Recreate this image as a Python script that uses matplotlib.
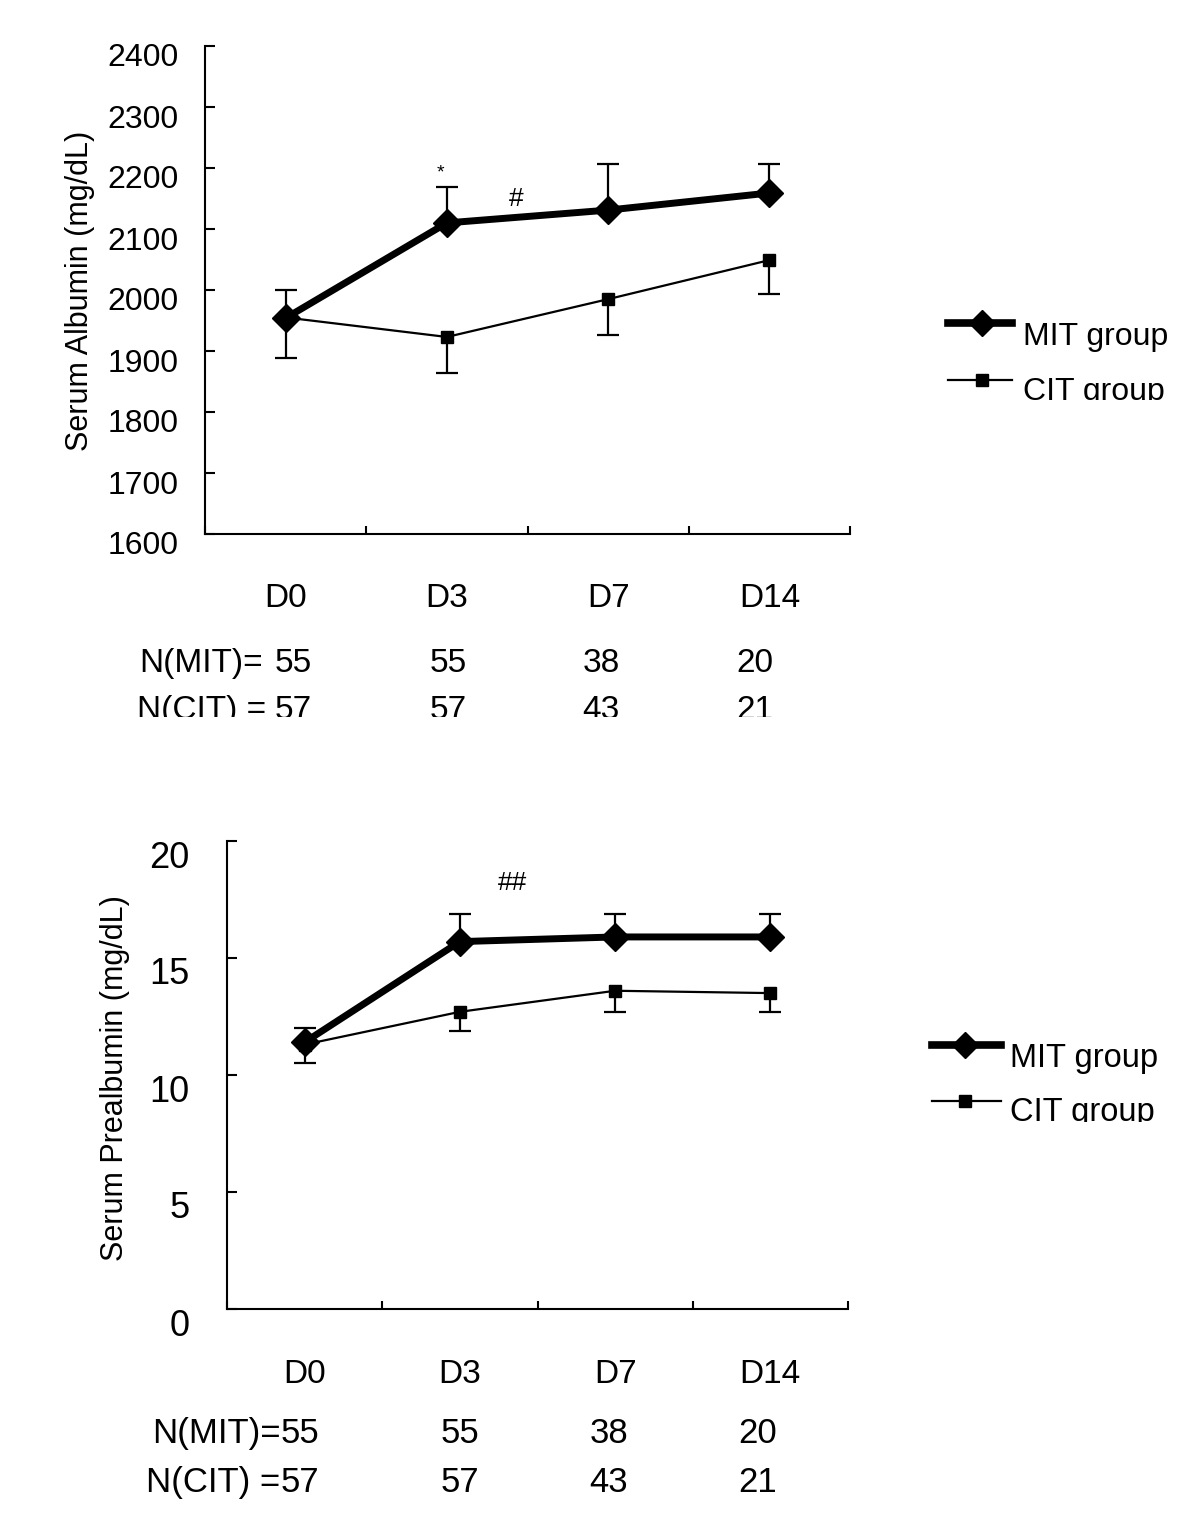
import matplotlib
matplotlib.use("Agg")
import matplotlib.pyplot as plt
from matplotlib.lines import Line2D
from matplotlib.transforms import Bbox, ScaledTranslation
import numpy as np

plt.rcParams['font.family'] = ['Liberation Sans', 'DejaVu Sans']

days = ['D0', 'D3', 'D7', 'D14']
n_mit = [55, 55, 38, 20]
n_cit = [57, 57, 43, 21]

# serum albumin (mg/dL)
alb_mit = [1954, 2110, 2131, 2159]
alb_mit_err = [46, 59, 76, 48]
alb_cit = [1955, 1923, 1985, 2049]
alb_cit_err = [66, 59, 59, 56]

# serum prealbumin (mg/dL)
pre_mit = [11.4, 15.7, 15.9, 15.9]
pre_mit_err = [0.6, 1.2, 1.0, 1.0]
pre_cit = [11.3, 12.7, 13.6, 13.5]
pre_cit_err = [0.8, 0.8, 0.9, 0.8]

W, H = 1200, 1536
fig = plt.figure(figsize=(W / 100, H / 100), dpi=100)


def fx(px):
    return px / W


def fy(py):
    return 1 - py / H


def make_axes(x0, x1, y0, y1):
    return fig.add_axes([fx(x0), fy(y1), fx(x1) - fx(x0), fy(y0) - fy(y1)])


def draw_panel(ax, mit, mit_err, cit, cit_err, ylim, ystep, ylabel,
               tick_fs, label_fs, ylab_xy, tick_pad, ytick_shift, xpad):
    x = np.arange(1, len(days) + 1)
    zeros = np.zeros(len(x))

    # MIT: error bars upward only
    eb = ax.errorbar(x, mit, yerr=[zeros, mit_err], color='black', lw=5,
                     marker='D', ms=14, elinewidth=1.6, capsize=8,
                     capthick=1.6, zorder=4)
    eb[1][0].set_visible(False)
    # CIT: error bars downward only
    eb = ax.errorbar(x, cit, yerr=[cit_err, zeros], color='black', lw=1.6,
                     marker='s', ms=8.5, elinewidth=1.6, capsize=8,
                     capthick=1.6, zorder=3)
    eb[1][1].set_visible(False)

    ax.set_xlim(0.5, len(days) + 0.5)
    ax.set_ylim(*ylim)
    ax.set_yticks(np.arange(ylim[0], ylim[1] + ystep / 2, ystep))
    ax.set_xticks(x, days)
    ax.set_xticks(np.arange(0.5, len(days) + 1), minor=True)
    ax.tick_params(axis='x', which='major', length=0, labelsize=label_fs,
                   pad=xpad)
    ax.tick_params(axis='x', which='minor', direction='in', length=6,
                   width=1.5)
    ax.tick_params(axis='y', direction='in', length=7, width=1.5,
                   labelsize=tick_fs, pad=tick_pad)
    for lab in ax.get_yticklabels():
        lab.set_transform(lab.get_transform() +
                          ScaledTranslation(0, -ytick_shift / 100,
                                            fig.dpi_scale_trans))
    for side in ['top', 'right']:
        ax.spines[side].set_visible(False)
    for side in ['left', 'bottom']:
        ax.spines[side].set_linewidth(1.5)
    ax.set_ylabel(ylabel, fontsize=22)
    ax.yaxis.label.set_va('center')
    ax.yaxis.set_label_coords(*ylab_xy)


def clipped_text(px, py, s, size, clip_y=None, **kw):
    t = fig.text(fx(px), fy(py), s, fontsize=size, va='baseline', **kw)
    if clip_y is not None:
        t.set_clip_box(Bbox.from_extents(0, H - clip_y, W, H))
        t.set_clip_on(True)
    return t


def legend(x0, x1, xm, y_mit, y_cit, tx, fs, clip_y):
    fig.add_artist(Line2D([fx(x0), fx(x1)], [fy(y_mit), fy(y_mit)], color='black',
                          lw=5.5, transform=fig.transFigure))
    fig.add_artist(Line2D([fx(xm)], [fy(y_mit)], marker='D', ms=13,
                          color='black', transform=fig.transFigure))
    fig.add_artist(Line2D([fx(x0), fx(x1)], [fy(y_cit), fy(y_cit)], color='black',
                          lw=1.6, transform=fig.transFigure))
    fig.add_artist(Line2D([fx(xm)], [fy(y_cit)], marker='s', ms=9,
                          color='black', transform=fig.transFigure))
    clipped_text(tx, y_mit + 22, 'MIT group', fs)
    clipped_text(tx, y_cit + 20, 'CIT group', fs, clip_y=clip_y)


# ---- top panel: albumin
ax1 = make_axes(205, 850, 46, 534)
draw_panel(ax1, alb_mit, alb_mit_err, alb_cit, alb_cit_err, (1600, 2400), 100,
           'Serum Albumin (mg/dL)', 23, 24, (-0.194, 0.498), 19, 9, 35)
ax1.text(1.96, 2192, '*', fontsize=14, ha='center', va='center')
ax1.text(2.43, 2149, '#', fontsize=19, ha='center', va='center')

clipped_text(139, 672, 'N(MIT)=', 24)
clipped_text(266, 719, 'N(CIT) =', 24, ha='right', clip_y=717)
for xp, m, c in zip([293, 448, 601, 755], n_mit, n_cit):
    clipped_text(xp, 672, str(m), 24, ha='center')
    clipped_text(xp, 719, str(c), 24, ha='center', clip_y=717)

legend(948, 1012, 982, 323, 380, 1023, 23, 400)

# ---- bottom panel: prealbumin
ax2 = make_axes(227, 848, 841, 1309)
draw_panel(ax2, pre_mit, pre_mit_err, pre_cit, pre_cit_err, (0, 20), 5,
           'Serum Prealbumin (mg/dL)', 26, 24, (-0.180, 0.494), 27, 13, 36)
ax2.text(2.34, 18.2, '##', fontsize=19, ha='center', va='center')

clipped_text(281, 1443, 'N(MIT)=', 25, ha='right')
clipped_text(280, 1492, 'N(CIT) =', 25, ha='right')
for xp, m, c in zip([300, 460, 609, 758], n_mit, n_cit):
    clipped_text(xp, 1443, str(m), 25, ha='center')
    clipped_text(xp, 1492, str(c), 25, ha='center')

legend(932, 1001, 965, 1045, 1101, 1010, 23.5, 1122)

fig.savefig('out.png', dpi=100)
